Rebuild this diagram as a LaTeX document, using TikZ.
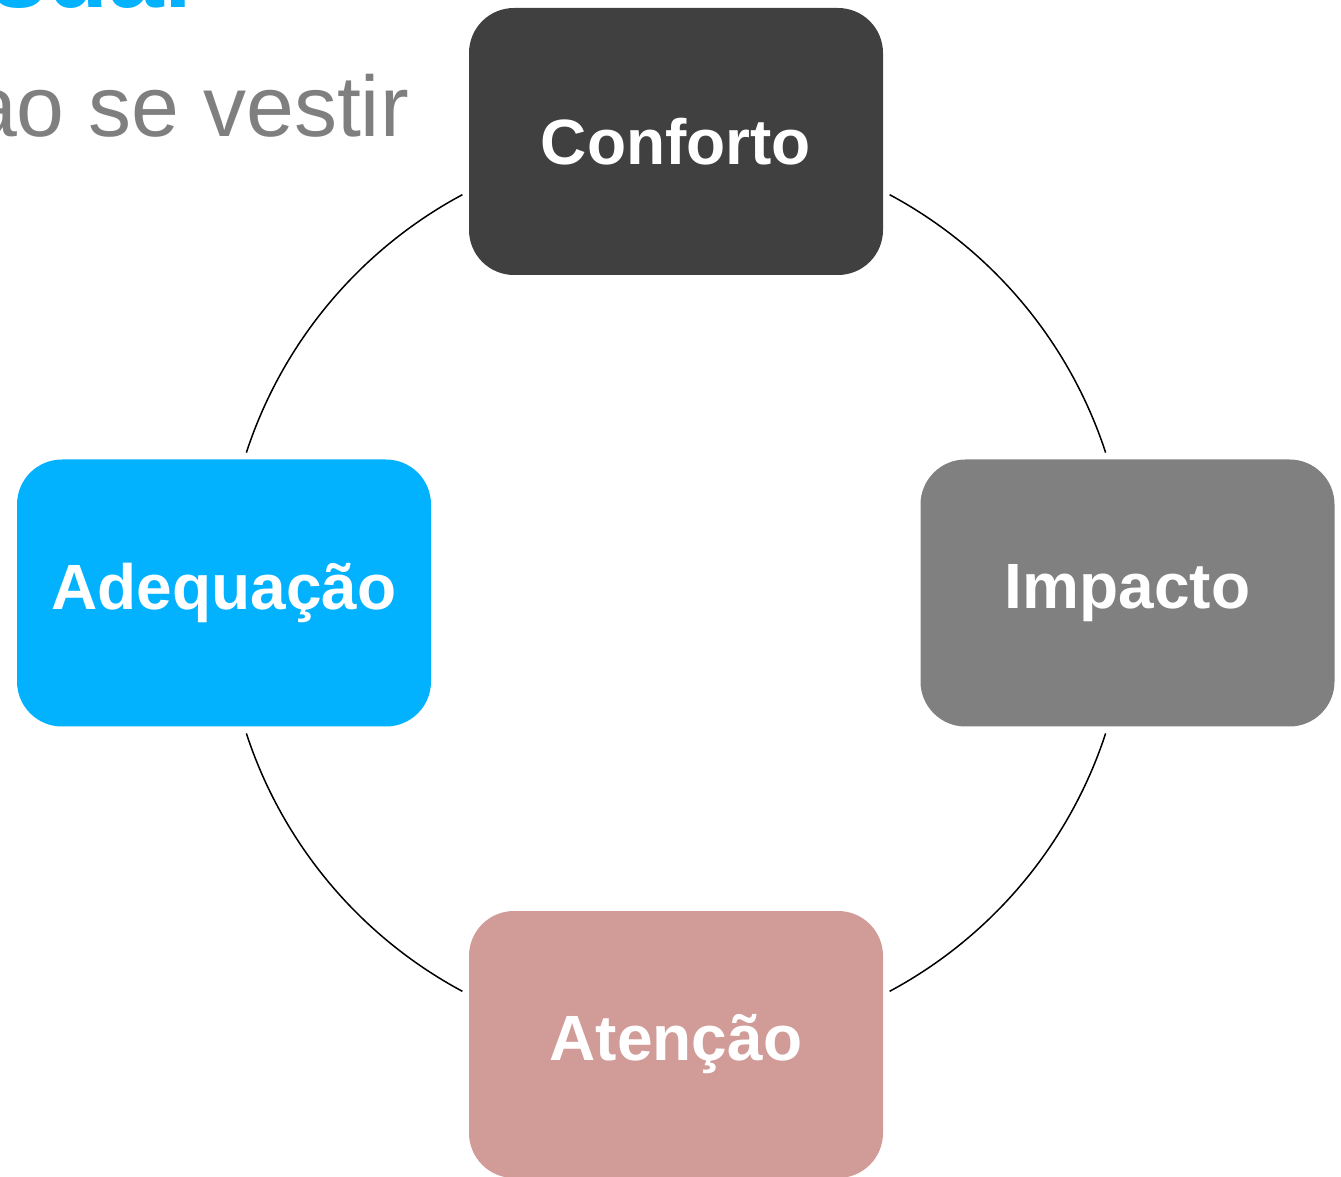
\documentclass[tikz,border=0pt]{standalone}
\usepackage{fontspec}
\setmainfont{Liberation Sans}
\definecolor{cdark}{HTML}{404040}
\definecolor{cgray}{HTML}{808080}
\definecolor{cblue}{HTML}{03B2FF}
\definecolor{crose}{HTML}{D19B98}
\definecolor{ctext}{HTML}{7F7F7F}
\begin{document}
\begin{tikzpicture}[x=1pt,y=1pt,
  box/.style={rounded corners=45pt, minimum width=414pt, minimum height=267pt, inner sep=0pt,
    text=white, font=\fontsize{64}{77}\selectfont\bfseries},
  ring/.style={line width=1.5pt, black}]
\useasboundingbox (0,0) rectangle (1341,1176);
\clip (0,0) rectangle (1341,1176);
\node[anchor=base east, text=cblue, font=\fontsize{100}{120}\selectfont\bfseries, inner sep=0pt] (title) at (192,1168) {sual};
\node[anchor=base east, text=ctext, font=\fontsize{86}{104}\selectfont, inner sep=0pt] (sub) at (409,1039) {ao se vestir};
\coordinate (c) at (676,583);
\draw[ring] ([shift={(118.2:452)}]c) arc[start angle=118.2, end angle=161.9, radius=452];
\draw[ring] ([shift={(61.8:452)}]c) arc[start angle=61.8, end angle=18.1, radius=452];
\draw[ring] ([shift={(-18.1:452)}]c) arc[start angle=-18.1, end angle=-61.8, radius=452];
\draw[ring] ([shift={(198.1:452)}]c) arc[start angle=198.1, end angle=241.8, radius=452];
\node[box, fill=cdark] (conforto) at (676,1034.5) {Conforto};
\node[box, fill=cgray] (impacto) at (1127.5,583) {Impacto};
\node[box, fill=cblue] (adequacao) at (224,583) {Adequação};
\node[box, fill=crose] (atencao) at (676,131.5) {Atenção};
\end{tikzpicture}
\end{document}
